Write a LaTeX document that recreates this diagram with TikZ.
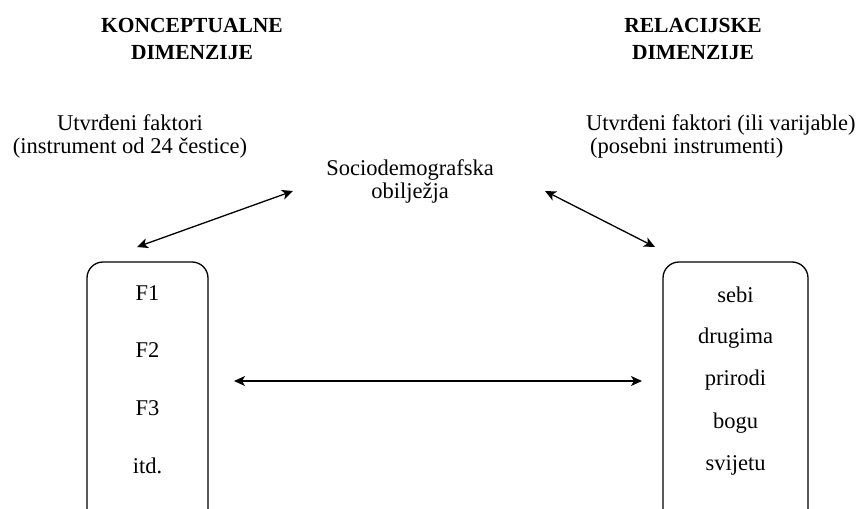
\documentclass[tikz,border=0pt]{standalone}
\usepackage{fontspec}
\setmainfont{Liberation Serif}
\usetikzlibrary{arrows.meta}
\begin{document}
\begin{tikzpicture}[x=1pt,y=-1pt,
  every node/.style={font=\fontsize{22.5}{23}\selectfont, inner sep=0pt},
  title/.style={font=\fontsize{21.5}{27}\selectfont\bfseries, align=center},
  lbl/.style={align=center},
  panel/.style={draw, line width=1.3pt, rounded corners=16pt},
  link/.style={line width=1.3pt, {Stealth[length=11pt,width=10pt,inset=3pt]}-{Stealth[length=11pt,width=10pt,inset=3pt]}}]
\useasboundingbox (0,0) rectangle (866,508);
\clip (0,0) rectangle (866,508);
\node[title] (t1) at (192,39) {KONCEPTUALNE\\DIMENZIJE};
\node[title] (t2) at (693,39) {RELACIJSKE\\DIMENZIJE};
\node[lbl] (u1) at (130,136.5) {Utvrđeni faktori\\(instrument od 24 čestice)};
\node[anchor=west, align=left] (u2) at (586,136.5) {Utvrđeni faktori (ili varijable)\\\hspace*{4pt}(posebni instrumenti)};
\node[lbl] (s) at (410,181.5) {Sociodemografska\\obilježja};
\draw[panel] (87,262) rectangle (208,525);
\draw[panel] (663,262) rectangle (808,525);
\node (f1) at (147.5,293) {F1};
\node (f2) at (147.5,350) {F2};
\node (f3) at (147.5,408) {F3};
\node (f4) at (147.5,466) {itd.};
\node (r1) at (735.5,295) {sebi};
\node (r2) at (735.5,338) {drugima};
\node (r3) at (735.5,380) {prirodi};
\node (r4) at (735.5,423) {bogu};
\node (r5) at (735.5,465) {svijetu};
\coordinate (a1) at (137,247);
\coordinate (a2) at (293,191);
\coordinate (b1) at (545,191);
\coordinate (b2) at (655,247);
\coordinate (h1) at (234,381);
\coordinate (h2) at (642,381);
\draw[link] (a1) -- (a2);
\draw[link] (b1) -- (b2);
\draw[link] (h1) -- (h2);
\end{tikzpicture}
\end{document}
